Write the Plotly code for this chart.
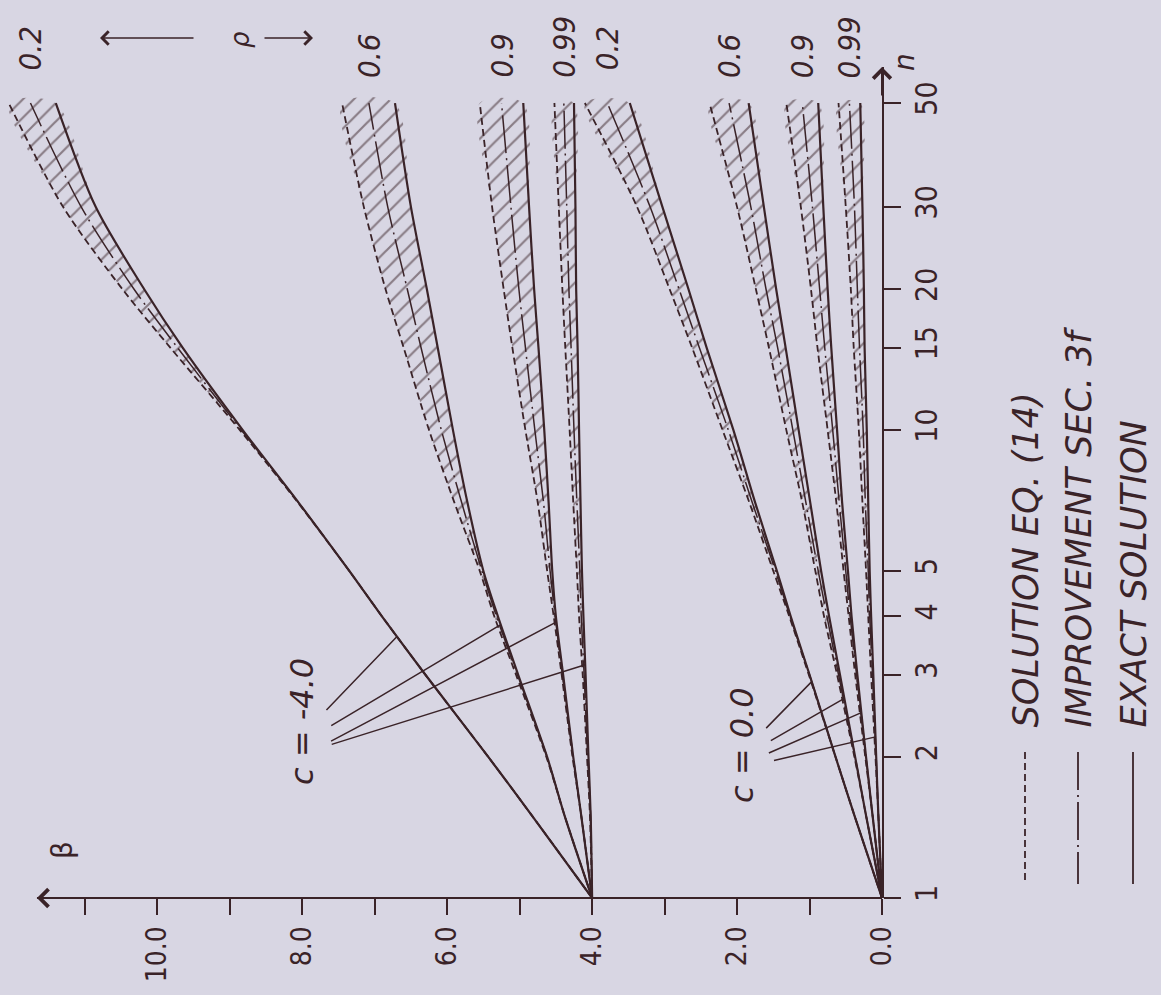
import numpy as np
import plotly.graph_objects as go

# ---------------- data ----------------
n_values = [1, 1.5, 2, 3, 4, 5, 7, 10, 15, 20, 30, 50]

# c = -4.0
cm4_r02_exact = [4.0, 4.83, 5.43, 6.30, 6.90, 7.35, 8.05, 8.82, 9.65, 10.18, 10.85, 11.40]
cm4_r02_impr  = [4.0, 4.83, 5.43, 6.30, 6.90, 7.35, 8.05, 8.84, 9.72, 10.32, 11.05, 11.75]
cm4_r02_eq14  = [4.0, 4.83, 5.43, 6.30, 6.90, 7.35, 8.06, 8.86, 9.82, 10.48, 11.30, 12.05]

cm4_r06_exact = [4.0, 4.38, 4.62, 5.02, 5.30, 5.50, 5.72, 5.92, 6.13, 6.28, 6.50, 6.72]
cm4_r06_impr  = [4.0, 4.38, 4.62, 5.03, 5.32, 5.52, 5.80, 6.08, 6.36, 6.55, 6.82, 7.08]
cm4_r06_eq14  = [4.0, 4.38, 4.63, 5.05, 5.35, 5.55, 5.90, 6.25, 6.60, 6.85, 7.15, 7.45]

cm4_r09_exact = [4.0, 4.15, 4.26, 4.40, 4.50, 4.55, 4.60, 4.66, 4.74, 4.80, 4.87, 4.95]
cm4_r09_impr  = [4.0, 4.15, 4.26, 4.41, 4.51, 4.58, 4.67, 4.79, 4.92, 5.01, 5.12, 5.25]
cm4_r09_eq14  = [4.0, 4.15, 4.27, 4.42, 4.53, 4.62, 4.75, 4.92, 5.10, 5.22, 5.38, 5.55]

cm4_r099_exact = [4.0, 4.02, 4.05, 4.09, 4.12, 4.14, 4.16, 4.18, 4.20, 4.22, 4.23, 4.25]
cm4_r099_impr  = [4.0, 4.02, 4.06, 4.11, 4.15, 4.17, 4.21, 4.25, 4.29, 4.32, 4.35, 4.39]
cm4_r099_eq14  = [4.0, 4.03, 4.07, 4.13, 4.18, 4.21, 4.26, 4.31, 4.37, 4.41, 4.46, 4.52]

# c = 0.0
c0_r02_exact = [0.0, 0.38, 0.64, 1.00, 1.26, 1.45, 1.75, 2.05, 2.42, 2.67, 3.03, 3.48]
c0_r02_impr  = [0.0, 0.38, 0.64, 1.00, 1.27, 1.47, 1.79, 2.12, 2.52, 2.80, 3.20, 3.79]
c0_r02_eq14  = [0.0, 0.38, 0.64, 1.01, 1.28, 1.50, 1.83, 2.20, 2.62, 2.93, 3.38, 4.10]

c0_r06_exact = [0.0, 0.22, 0.37, 0.58, 0.73, 0.84, 0.99, 1.15, 1.33, 1.46, 1.63, 1.84]
c0_r06_impr  = [0.0, 0.22, 0.37, 0.60, 0.76, 0.88, 1.05, 1.23, 1.44, 1.60, 1.81, 2.11]
c0_r06_eq14  = [0.0, 0.22, 0.38, 0.62, 0.80, 0.92, 1.10, 1.32, 1.56, 1.74, 2.00, 2.38]

c0_r09_exact = [0.0, 0.13, 0.22, 0.34, 0.42, 0.47, 0.55, 0.62, 0.70, 0.75, 0.81, 0.88]
c0_r09_impr  = [0.0, 0.13, 0.22, 0.35, 0.44, 0.50, 0.59, 0.68, 0.79, 0.86, 0.96, 1.10]
c0_r09_eq14  = [0.0, 0.13, 0.23, 0.37, 0.46, 0.53, 0.63, 0.75, 0.89, 0.98, 1.12, 1.32]

c0_r099_exact = [0.0, 0.05, 0.08, 0.12, 0.15, 0.17, 0.19, 0.21, 0.24, 0.25, 0.27, 0.30]
c0_r099_impr  = [0.0, 0.05, 0.08, 0.13, 0.17, 0.19, 0.23, 0.26, 0.31, 0.34, 0.38, 0.45]
c0_r099_eq14  = [0.0, 0.05, 0.09, 0.15, 0.19, 0.22, 0.27, 0.32, 0.39, 0.43, 0.50, 0.60]

rho_labels = ["0.2", "0.6", "0.9", "0.99"]
beta_tick_vals = [0, 1, 2, 3, 4, 5, 6, 7, 8, 9, 10, 11]
beta_tick_text = ["0.0", "", "2.0", "", "4.0", "", "6.0", "", "8.0", "", "10.0", ""]
beta_axis_end = 11.66
n_tick_vals = [1, 2, 3, 4, 5, 10, 15, 20, 30, 50]
n_tick_text = ["1", "2", "3", "4", "5", "10", "15", "20", "30", "50"]
legend_texts = ["SOLUTION EQ. (14)", "IMPROVEMENT SEC. 3f", "EXACT SOLUTION"]

families = [
    ("c = -4.0", [(cm4_r02_eq14, cm4_r02_impr, cm4_r02_exact),
                  (cm4_r06_eq14, cm4_r06_impr, cm4_r06_exact),
                  (cm4_r09_eq14, cm4_r09_impr, cm4_r09_exact),
                  (cm4_r099_eq14, cm4_r099_impr, cm4_r099_exact)]),
    ("c = 0.0", [(c0_r02_eq14, c0_r02_impr, c0_r02_exact),
                 (c0_r06_eq14, c0_r06_impr, c0_r06_exact),
                 (c0_r09_eq14, c0_r09_impr, c0_r09_exact),
                 (c0_r099_eq14, c0_r099_impr, c0_r099_exact)]),
]

# ---------------- style ----------------
INK = "#3a2328"
BG = "#d8d6e3"
W, H = 1161, 995
ML, MR, MT, MB = 0, 279, 67, 97
PW, PH = W - ML - MR, H - MT - MB
FONT = "Liberation Sans Narrow, DejaVu Sans Condensed, Liberation Sans, sans-serif"
FONT2 = "DejaVu Sans, Liberation Sans, sans-serif"
DASH_EQ = "7px,4px"
DASH_IMP = "38px,5px,2px,5px"
X_RANGE = [12.17, 0]
SPL = dict(shape="spline", smoothing=0.8)


def pxx(px):
    return (px - ML) / PW


def pxy(py):
    return (H - MB - py) / PH


fig = go.Figure()

# hatched bands (between Eq.(14) and exact solution)
for _, curves in families:
    for eq, imp, ex in curves:
        fig.add_trace(go.Scatter(
            x=list(eq) + list(ex)[::-1],
            y=list(n_values) + list(n_values)[::-1],
            mode="lines", fill="toself", line=dict(width=0, **SPL),
            fillcolor="rgba(0,0,0,0)",
            fillpattern=dict(shape="/", fgcolor=INK, bgcolor="rgba(0,0,0,0)",
                             size=13, solidity=0.17),
            hoverinfo="skip", showlegend=False))

# curves
for _, curves in families:
    for eq, imp, ex in curves:
        fig.add_trace(go.Scatter(x=eq, y=n_values, mode="lines",
                                 line=dict(color=INK, width=1.8, dash=DASH_EQ, **SPL),
                                 showlegend=False))
        fig.add_trace(go.Scatter(x=imp, y=n_values, mode="lines",
                                 line=dict(color=INK, width=1.5, dash=DASH_IMP, **SPL),
                                 showlegend=False))
        fig.add_trace(go.Scatter(x=ex, y=n_values, mode="lines",
                                 line=dict(color=INK, width=2.2, **SPL),
                                 showlegend=False))

annotations = []
shapes = []

# beta axis line ending with an arrow (n axis is the plot's right edge)
shapes.append(dict(type="line", xref="x", yref="paper", x0=0, x1=beta_axis_end,
                   y0=0, y1=0, line=dict(color=INK, width=2)))
annotations.append(dict(x=beta_axis_end, y=0, xref="x", yref="paper", text="",
                        showarrow=True, ax=30, ay=0, arrowhead=4, arrowsize=1.7,
                        arrowwidth=2, arrowcolor=INK))
annotations.append(dict(x=1, y=1, xref="paper", yref="paper", text="",
                        showarrow=True, ax=0, ay=30, arrowhead=4, arrowsize=1.7,
                        arrowwidth=2, arrowcolor=INK))
annotations.append(dict(x=pxx(62), y=pxy(850), xref="paper", yref="paper",
                        text="β", showarrow=False, textangle=-90,
                        xanchor="center", yanchor="middle",
                        font=dict(family=FONT2, size=28, color=INK)))
annotations.append(dict(x=pxx(905), y=pxy(62), xref="paper", yref="paper",
                        text="n", showarrow=False, textangle=-90,
                        xanchor="center", yanchor="middle",
                        font=dict(family=FONT2, size=28, color=INK, style="italic")))

# rho labels at the end of the bands
label_bottom = [72, 80, 80, 80]
for _, curves in families:
    for k, (eq, imp, ex) in enumerate(curves):
        annotations.append(dict(
            x=imp[-1], xref="x", y=pxy(label_bottom[k]), yref="paper",
            text=rho_labels[k], showarrow=False, textangle=-90,
            xanchor="center", yanchor="bottom",
            font=dict(family=FONT, size=31, color=INK, style="italic")))

# rho with arrows
annotations.append(dict(x=pxx(240), y=pxy(40), xref="paper", yref="paper",
                        text="ρ", showarrow=False, textangle=-90,
                        xanchor="center", yanchor="middle",
                        font=dict(family=FONT2, size=26, color=INK, style="italic")))
annotations.append(dict(x=pxx(100), y=pxy(38), xref="paper", yref="paper", text="",
                        showarrow=True, ax=95, ay=0, arrowhead=4, arrowsize=1.6,
                        arrowwidth=1.6, arrowcolor=INK))
annotations.append(dict(x=pxx(313), y=pxy(38), xref="paper", yref="paper", text="",
                        showarrow=True, ax=-50, ay=0, arrowhead=4, arrowsize=1.6,
                        arrowwidth=1.6, arrowcolor=INK))

# family labels with leader lines to the exact curves
fam_text_pos = [(302, 722), (742, 745)]
leader_specs = [
    [(3.62, -72, 75), (3.84, -171, 102), (3.89, -227, 120), (3.15, -255, 80)],
    [(2.90, -47, 48), (2.67, -75, 43), (2.49, -94, 41), (2.21, -103, 24)],
]
for (label, curves), (tx, ty), specs in zip(families, fam_text_pos, leader_specs):
    annotations.append(dict(x=pxx(tx), y=pxy(ty), xref="paper", yref="paper",
                            text=label, showarrow=False, textangle=-90,
                            xanchor="center", yanchor="middle",
                            font=dict(family=FONT2, size=32, color=INK, style="italic")))
    for (eq, imp, ex), (nt, ax, ay) in zip(curves, specs):
        bt = float(np.interp(np.log10(nt), np.log10(n_values), ex))
        annotations.append(dict(x=bt, y=np.log10(nt), xref="x", yref="y", text="",
                                showarrow=True, arrowhead=0, arrowwidth=1.5,
                                arrowcolor=INK, ax=ax, ay=ay, standoff=0))

# legend (rotated, drawn at the right)
legend_x = [1025, 1078, 1133]
legend_dash = [DASH_EQ, DASH_IMP, "solid"]
for lx, ld, lt in zip(legend_x, legend_dash, legend_texts):
    shapes.append(dict(type="line", xref="paper", yref="paper",
                       x0=pxx(lx), x1=pxx(lx), y0=pxy(752), y1=pxy(884),
                       line=dict(color=INK, width=1.8, dash=ld)))
    annotations.append(dict(x=pxx(lx), y=pxy(730), xref="paper", yref="paper",
                            text=lt, showarrow=False, textangle=-90,
                            xanchor="center", yanchor="bottom",
                            font=dict(family=FONT2, size=35, color=INK, style="italic")))

fig.update_layout(
    width=W, height=H,
    margin=dict(l=ML, r=MR, t=MT, b=MB, pad=0),
    paper_bgcolor=BG, plot_bgcolor=BG,
    showlegend=False,
    xaxis=dict(range=X_RANGE, showgrid=False, zeroline=False, showline=False,
               ticks="outside", ticklen=16, tickwidth=2, tickcolor=INK,
               tickvals=beta_tick_vals, ticktext=beta_tick_text, tickangle=-90,
               tickfont=dict(family=FONT, size=28, color=INK)),
    yaxis=dict(type="log", range=[0, 1.776], side="right", showgrid=False,
               zeroline=False, showline=True, linecolor=INK, linewidth=2,
               ticks="outside", ticklen=17, tickwidth=2, tickcolor=INK,
               tickvals=n_tick_vals, ticktext=n_tick_text, tickangle=-90,
               tickfont=dict(family=FONT, size=30, color=INK)),
    annotations=annotations,
    shapes=shapes,
)

fig.write_html("out.html",
               config={"displayModeBar": False},
               post_script="document.body.style.margin='0';"
                           "document.body.style.overflow='hidden';")
